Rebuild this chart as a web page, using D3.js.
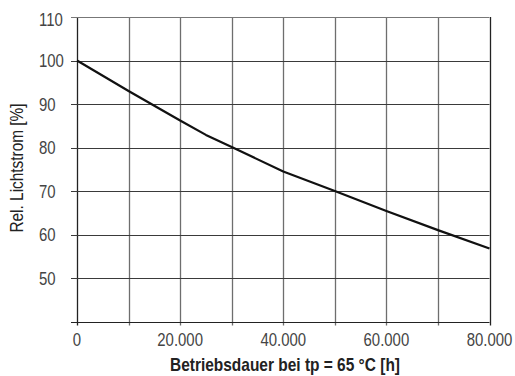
<!DOCTYPE html>
<html>
<head>
<meta charset="utf-8">
<script src="https://cdn.jsdelivr.net/npm/d3@7/dist/d3.min.js"></script>
<style>
  body { margin: 0; background: #fff; }
  svg { display: block; font-family: "Liberation Sans", Arial, sans-serif; }
</style>
</head>
<body>
<svg id="chart" width="515" height="376"></svg>
<script>
// Operating hours vs. relative luminous flux
const hours = [0, 10000, 20000, 25000, 30000, 40000, 50000, 60000, 70000, 80000];
const flux = [100, 93, 86.2, 82.9, 80.1, 74.5, 70, 65.4, 61, 56.8];

const xTicks = [0, 10000, 20000, 30000, 40000, 50000, 60000, 70000, 80000];
const xLabels = [0, 20000, 40000, 60000, 80000];
const yTicks = [40, 50, 60, 70, 80, 90, 100, 110];
const yLabels = [50, 60, 70, 80, 90, 100, 110];

const xTitle = 'Betriebsdauer bei tp = 65 °C [h]';
const yTitle = 'Rel. Lichtstrom [%]';

const svg = d3.select('#chart');
const plotLeft = 77, plotRight = 489.5, plotTop = 17, plotBottom = 321.5;

const x = d3.scaleLinear().domain([0, 80000]).range([plotLeft, plotRight]);
const y = d3.scaleLinear().domain([40, 110]).range([plotBottom, plotTop]);

const fmt = d => d === 0 ? '0' : d3.format(',')(d).replace(/,/g, '.');

// the original uses a condensed face, so squeeze the text horizontally
const squeeze = 0.83;

// Vertical grid (gray) with small ticks below the axis
svg.append('g')
  .selectAll('line')
  .data(xTicks)
  .join('line')
  .attr('x1', d => Math.round(x(d)) + 0.5)
  .attr('x2', d => Math.round(x(d)) + 0.5)
  .attr('y1', plotTop)
  .attr('y2', plotBottom + 4)
  .attr('stroke', d => (d === 0 || d === 80000) ? '#222' : '#6e6e6e')
  .attr('stroke-width', 1.3);

// Horizontal grid (dark) with ticks left of the axis
svg.append('g')
  .selectAll('line')
  .data(yTicks)
  .join('line')
  .attr('x1', plotLeft - 6)
  .attr('x2', plotRight)
  .attr('y1', d => Math.round(y(d)) + 0.5)
  .attr('y2', d => Math.round(y(d)) + 0.5)
  .attr('stroke', d => (d === 40) ? '#222' : (d === 110 ? '#777' : '#3a3a3a'))
  .attr('stroke-width', 1.2);

// Tick labels
svg.append('g')
  .selectAll('text')
  .data(yLabels)
  .join('text')
  .attr('transform', d => `translate(39,${y(d) + (d === 110 ? 8.5 : 6.5)}) scale(${squeeze},1)`)
  .attr('font-size', 18)
  .attr('fill', '#444')
  .text(d => d);

svg.append('g')
  .selectAll('text')
  .data(xLabels)
  .join('text')
  .attr('transform', d => `translate(${x(d)},346) scale(${squeeze},1)`)
  .attr('text-anchor', 'middle')
  .attr('font-size', 18)
  .attr('fill', '#444')
  .text(fmt);

// Curve
const line = d3.line()
  .x((d, i) => x(hours[i]))
  .y(d => y(d));

svg.append('path')
  .datum(flux)
  .attr('d', line)
  .attr('fill', 'none')
  .attr('stroke', '#111')
  .attr('stroke-width', 2.2)
  .attr('stroke-linejoin', 'round');

// Axis titles
svg.append('text')
  .attr('transform', `translate(285,371) scale(0.86,1)`)
  .attr('text-anchor', 'middle')
  .attr('font-size', 18)
  .attr('font-weight', 'bold')
  .attr('fill', '#222')
  .text(xTitle);

svg.append('text')
  .attr('transform', 'translate(23,168) rotate(-90) scale(0.88,1)')
  .attr('text-anchor', 'middle')
  .attr('font-size', 17.5)
  .attr('fill', '#222')
  .text(yTitle);
</script>
</body>
</html>
